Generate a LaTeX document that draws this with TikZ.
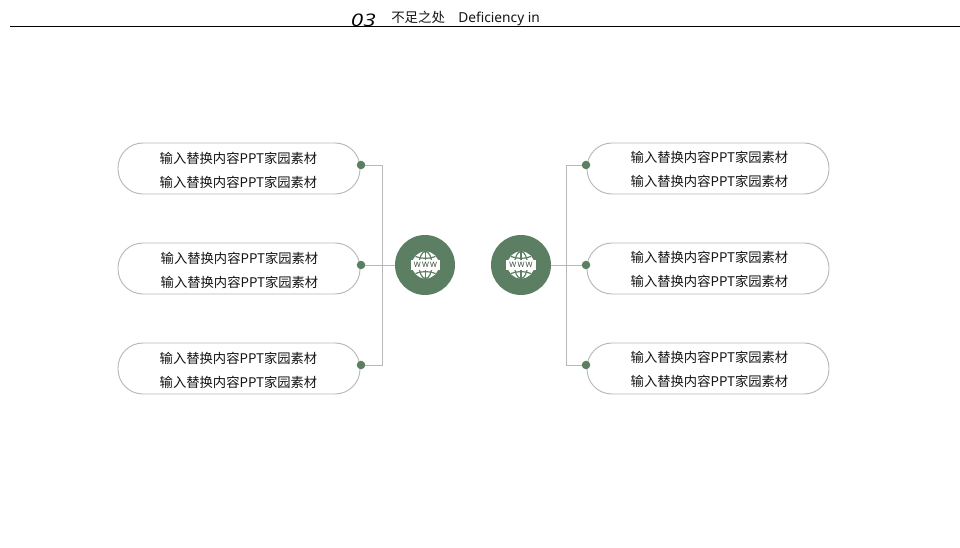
\documentclass[tikz,border=0pt]{standalone}
\usepackage{fontspec}
\setmainfont{Noto Sans}
\newfontfamily\cjkfont{Noto Sans CJK SC}[Scale=1.0]
\newfontfamily\slantfont{Open Sans}[ItalicFont=* Italic]
\definecolor{leafgreen}{HTML}{5C7F63}
\definecolor{linegrey}{HTML}{B8B8B8}
\definecolor{textgrey}{HTML}{141414}
\newcommand{\filltext}{输入替换内容PPT家园素材}
\tikzset{
  pill/.style={draw=linegrey, line width=0.7pt, fill=white, rounded corners=18.7pt, minimum width=181.5pt, minimum height=38.25pt, inner sep=0pt, outer sep=0pt},
  pilltext/.style={inner sep=0pt, align=center, text=textgrey, font=\cjkfont\fontsize{9.98pt}{18pt}\selectfont},
  dot/.style={circle, fill=leafgreen, minimum size=6.4pt, inner sep=0pt, outer sep=0pt},
  hub/.style={circle, fill=leafgreen, minimum size=45pt, inner sep=0pt, outer sep=0pt},
  wire/.style={draw=linegrey, line width=0.7pt},
  title/.style={anchor=base west, inner sep=0pt, text=textgrey, font=\cjkfont\fontsize{10.1pt}{12pt}\selectfont},
  globeicon/.pic={
    \fill [white] (0,0) circle (13.5);
    \draw [leafgreen, line width=0.9pt] (0,-13.5) -- (0,13.5);
    \draw [leafgreen, line width=0.9pt] (0,0) ellipse (6.5 and 13.5);
    \draw [leafgreen, line width=0.9pt] (-10,-8.5) .. controls (-4,-6) and (4,-6) .. (10,-8.5);
    \draw [leafgreen, line width=0.9pt] (-10,8.5) .. controls (-4,6) and (4,6) .. (10,8.5);
    \node (www) [draw=leafgreen, fill=white, line width=0.5pt, minimum width=21.5pt, minimum height=7pt, inner sep=0pt, outer sep=0pt, text=leafgreen!60!black, font=\fontsize{5.6pt}{6pt}\bfseries\selectfont] at (0,0) {W\,W\,W};
    \draw [white, line width=0.8pt] (www.south west) rectangle (www.north east);
  }
}
\begin{document}
\begin{tikzpicture}[x=0.75pt, y=-0.75pt]
  \useasboundingbox (0,0) rectangle (960,548);

  % Marking heading
  \coordinate (rulea) at (10,26.5);
  \coordinate (ruleb) at (960,26.5);
  \draw [black, line width=0.6pt] (rulea) -- (ruleb);
  \node (number) [title, text=black, font=\slantfont\itshape\fontsize{13pt}{14pt}\selectfont, xscale=1.3] at (350.5,26.5) {03};
  \node (headcn) [title] at (391,22.6) {不足之处};
  \node (headen) [title, font=\fontsize{10.3pt}{12pt}\selectfont] at (458,22.6) {Deficiency in};

  % Drawing left boxes
  \node (boxla) [pill] at (239,168.5) {};
  \node (boxlb) [pill] at (239,268.5) {};
  \node (boxlc) [pill] at (239,368.5) {};
  \node (textla) [pilltext] at (238.5,170.5) {\filltext\\\filltext};
  \node (textlb) [pilltext] at (239.5,270.5) {\filltext\\\filltext};
  \node (textlc) [pilltext] at (238.5,370.5) {\filltext\\\filltext};

  % Drawing right boxes
  \node (boxra) [pill] at (708,168.5) {};
  \node (boxrb) [pill] at (708,268.5) {};
  \node (boxrc) [pill] at (708,368.5) {};
  \node (textra) [pilltext] at (709.5,169.5) {\filltext\\\filltext};
  \node (textrb) [pilltext] at (709.5,269.5) {\filltext\\\filltext};
  \node (textrc) [pilltext] at (709.5,369.5) {\filltext\\\filltext};

  % Marking hubs
  \node (hubl) [hub] at (425,265) {};
  \node (hubr) [hub] at (521,265) {};
  \pic (iconl) at (425.5,265) {globeicon};
  \pic (iconr) at (521,265) {globeicon};

  % Marking dots
  \node (dotla) [dot] at (361,165) {};
  \node (dotlb) [dot] at (361,265) {};
  \node (dotlc) [dot] at (361,365) {};
  \node (dotra) [dot] at (586,165) {};
  \node (dotrb) [dot] at (586,265) {};
  \node (dotrc) [dot] at (586,365) {};

  % Drawing left wires
  \coordinate (trunkl) at (382,265);
  \draw [wire] (dotla) -| (trunkl);
  \draw [wire] (dotlc) -| (trunkl);
  \draw [wire] (dotlb) -- (hubl);

  % Drawing right wires
  \coordinate (trunkr) at (566,265);
  \draw [wire] (dotra) -| (trunkr);
  \draw [wire] (dotrc) -| (trunkr);
  \draw [wire] (hubr) -- (dotrb);
\end{tikzpicture}
\end{document}
